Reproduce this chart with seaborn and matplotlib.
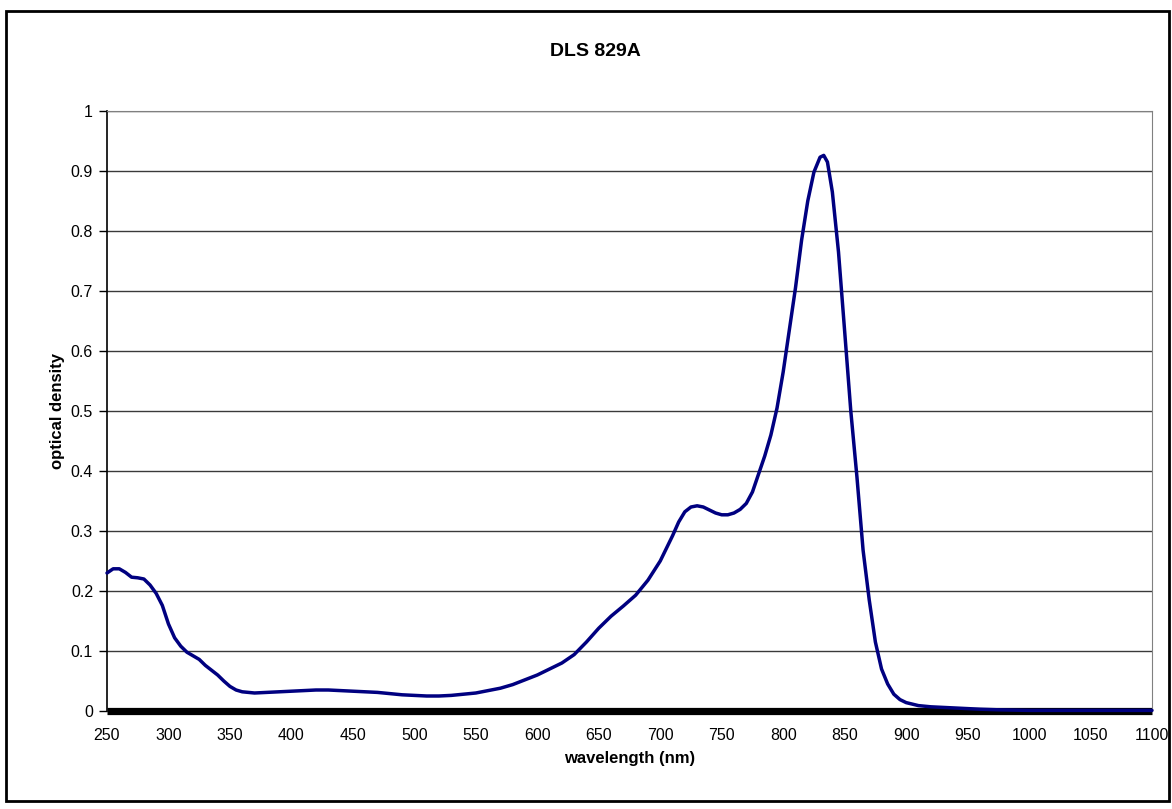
import numpy as np
import pandas as pd
import matplotlib
matplotlib.use("Agg")
import matplotlib.pyplot as plt
import seaborn as sns
from matplotlib.patches import Rectangle

# Absorption spectrum
wavelength = [250, 255, 260, 265, 270, 275, 280, 285, 290, 295,
              300, 305, 310, 315, 320, 325, 330, 335, 340, 345,
              350, 355, 360, 370, 380, 390, 400, 410, 420, 430,
              440, 450, 460, 470, 480, 490, 500, 510, 520, 530,
              540, 550, 560, 570, 580, 590, 600, 610, 620, 630,
              640, 650, 660, 670, 680, 690, 700, 710, 715, 720,
              725, 730, 735, 740, 745, 750, 755, 760, 765, 770,
              775, 780, 785, 790, 795, 800, 805, 810, 815, 820,
              825, 830, 833, 836, 840, 845, 850, 855, 860, 865,
              870, 875, 880, 885, 890, 895, 900, 910, 920, 930,
              940, 950, 960, 975, 1000, 1050, 1100]
optical_density = [0.230, 0.237, 0.237, 0.231, 0.223, 0.222, 0.220, 0.210, 0.196, 0.176,
                   0.145, 0.122, 0.108, 0.098, 0.092, 0.086, 0.076, 0.068, 0.060, 0.050,
                   0.041, 0.035, 0.032, 0.030, 0.031, 0.032, 0.033, 0.034, 0.035, 0.035,
                   0.034, 0.033, 0.032, 0.031, 0.029, 0.027, 0.026, 0.025, 0.025, 0.026,
                   0.028, 0.030, 0.034, 0.038, 0.044, 0.052, 0.060, 0.070, 0.080, 0.094,
                   0.115, 0.138, 0.158, 0.175, 0.193, 0.218, 0.250, 0.292, 0.315, 0.332,
                   0.340, 0.342, 0.340, 0.335, 0.330, 0.327, 0.327, 0.330, 0.336, 0.346,
                   0.365, 0.395, 0.425, 0.460, 0.505, 0.565, 0.635, 0.705, 0.785, 0.850,
                   0.898, 0.923, 0.926, 0.915, 0.865, 0.765, 0.633, 0.500, 0.390, 0.268,
                   0.185, 0.115, 0.070, 0.045, 0.028, 0.019, 0.014, 0.009, 0.007, 0.006,
                   0.005, 0.004, 0.003, 0.002, 0.001, 0.001, 0.001]

x_ticks = list(range(250, 1101, 50))
y_ticks = [0, 0.1, 0.2, 0.3, 0.4, 0.5, 0.6, 0.7, 0.8, 0.9, 1]
y_tick_labels = ["0", "0.1", "0.2", "0.3", "0.4", "0.5", "0.6", "0.7", "0.8", "0.9", "1"]

spectrum = pd.DataFrame({"wavelength": wavelength, "od": optical_density})

sns.set_style("white")
plt.rcParams['font.family'] = ['Liberation Sans', 'DejaVu Sans']
plt.rcParams['text.color'] = 'black'
plt.rcParams['axes.labelcolor'] = 'black'
plt.rcParams['xtick.color'] = 'black'
plt.rcParams['ytick.color'] = 'black'

W, H = 1172, 809
fig = plt.figure(figsize=(W / 100, H / 100), dpi=100)
ax = fig.add_axes([107 / W, 1 - 711 / H, (1152 - 107) / W, (711 - 111) / H])

# horizontal gridlines
for yv in y_ticks[1:]:
    ax.axhline(yv, color='#3a3a3a', linewidth=1.0, zorder=1)

# thick category axis bar at zero
ax.axhline(0, color='black', linewidth=5.2, zorder=2, clip_on=False,
           solid_capstyle='butt')

sns.lineplot(data=spectrum, x="wavelength", y="od", ax=ax, color='#000080',
             linewidth=2.5, zorder=3, clip_on=False)

ax.set_xlim(250, 1100)
ax.set_ylim(0, 1)
ax.set_xticks(x_ticks)
ax.set_xticklabels([str(v) for v in x_ticks], fontsize=11.5)
ax.set_yticks(y_ticks)
ax.set_yticklabels(y_tick_labels, fontsize=11.5)
ax.tick_params(axis='x', length=0, pad=12)
ax.tick_params(axis='y', length=6, width=1, color='black', direction='out', left=True, pad=4)

ax.set_xlabel("wavelength (nm)", fontsize=12, fontweight='bold', labelpad=6)
ax.set_ylabel("optical density", fontsize=12, fontweight='bold', labelpad=4)

# chart title, centred on the whole chart area
fig.text(595 / W, 1 - 52 / H, "DLS 829A", fontsize=14, fontweight='bold',
         color='black', ha='center', va='center')

ax.spines['left'].set_color('black')
ax.spines['left'].set_linewidth(1.2)
ax.spines['right'].set_color('#808080')
ax.spines['top'].set_color('#808080')
ax.spines['bottom'].set_visible(False)

# outer chart border
fig.patches.append(Rectangle((6 / W, 1 - 801 / H), (1169 - 6) / W, (801 - 11) / H,
                             transform=fig.transFigure, fill=False,
                             edgecolor='black', linewidth=2))

fig.savefig("out.png", dpi=100)
